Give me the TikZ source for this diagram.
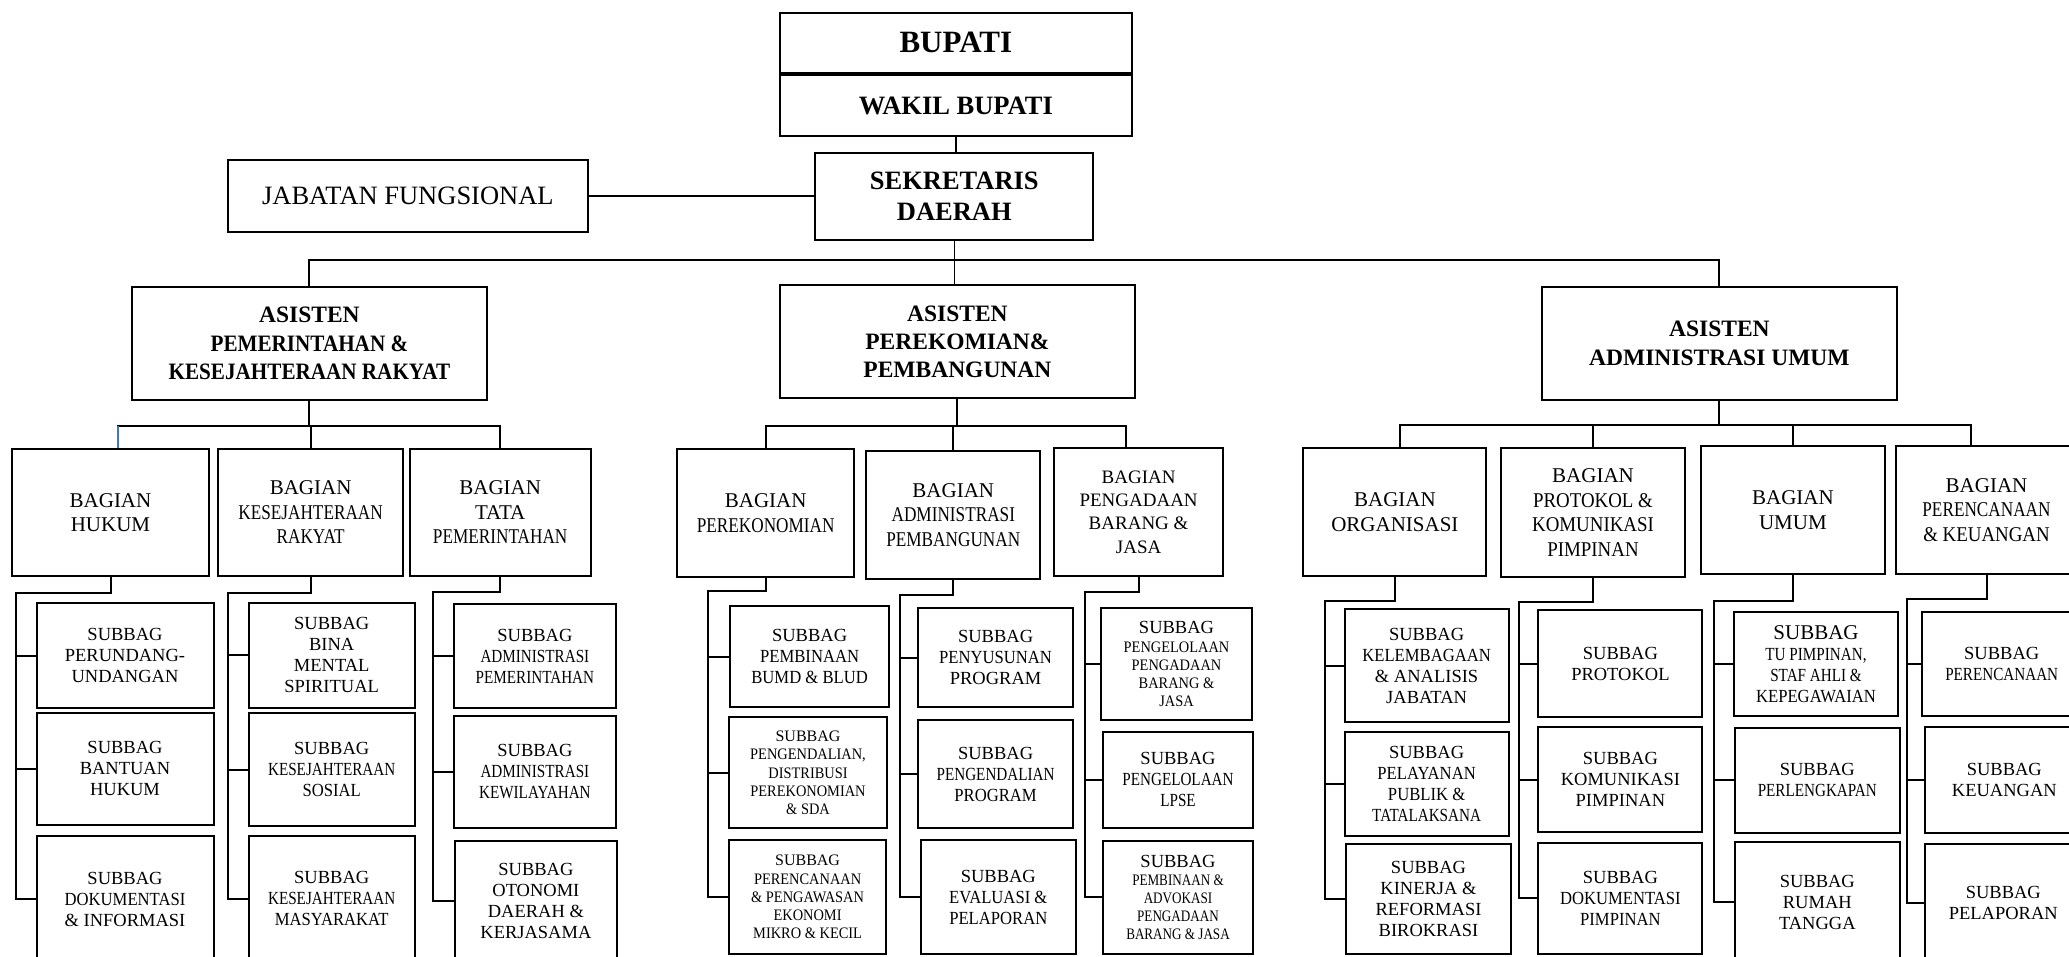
\documentclass[tikz,border=0pt]{standalone}
\usepackage{fontspec}
\setmainfont{Liberation Serif}
\newfontfamily\nrw{Liberation Serif}[FakeStretch=0.82]
\newfontfamily\snrw{Liberation Serif}[FakeStretch=0.9]
\usetikzlibrary{positioning}
\definecolor{hkblue}{RGB}{68,114,196}
\newcommand{\smf}{\fontsize{16}{18.2}\selectfont}

\begin{document}
\begin{tikzpicture}[x=1pt,y=-1pt,
  box/.style={draw,line width=2pt,inner sep=0pt,align=center},
  sz/.style 2 args={minimum width=#1pt,minimum height=#2pt},
  asisten/.style={box,font=\bfseries\fontsize{23.5}{28.3}\selectfont},
  bag/.style={box,font=\fontsize{21}{24.5}\selectfont},
  sub/.style={box,font=\fontsize{18.5}{21}\selectfont},
  link/.style={line width=2pt},
  thinlink/.style={line width=1.4pt}
]
  \useasboundingbox (0,0) rectangle (2069,956);
  \clip (0,0) rectangle (2069,956);

  % pimpinan
  \node[box,sz={352.6}{60},font=\bfseries\fontsize{31}{36}\selectfont] (bupati) at (955.8,42.7) {BUPATI};
  \node[box,sz={352.6}{61.6},font=\bfseries\fontsize{26.5}{30}\selectfont,below=0pt of bupati] (wakil) {WAKIL BUPATI};
  \node[box,sz={278}{87.3},font=\bfseries\fontsize{26.5}{30.7}\selectfont] (sekda) at (954.3,196.3) {SEKRETARIS\\DAERAH};
  \node[box,sz={360.3}{71.7},font=\fontsize{26.5}{30}\selectfont] (jabfung) at (407.9,195.9) {JABATAN FUNGSIONAL};

  % asisten
  \node[asisten,sz={355.3}{113.3}] (as1) at (309.4,343.4) {ASISTEN\\{\snrw PEMERINTAHAN \&}\\{\snrw KESEJAHTERAAN RAKYAT}};
  \node[asisten,sz={355.8}{113.3}] (as2) at (957.4,341.7) {ASISTEN\\PEREKOMIAN\&\\PEMBANGUNAN};
  \node[asisten,sz={355.1}{113.3}] (as3) at (1719.4,343.4) {ASISTEN\\ADMINISTRASI UMUM};

  % bagian
  \node[bag,sz={197.8}{127}] (hk) at (110.5,512.5) {BAGIAN\\HUKUM};
  \node[bag,sz={185.7}{127}] (ks) at (310.6,512.5) {BAGIAN\\{\nrw KESEJAHTERAAN}\\{\nrw RAKYAT}};
  \node[bag,sz={181.2}{127}] (tp) at (500.2,512.5) {BAGIAN\\TATA\\{\nrw PEMERINTAHAN}};
  \node[bag,sz={177.4}{127.7}] (pe) at (765.7,512.9) {BAGIAN\\{\nrw PEREKONOMIAN}};
  \node[bag,sz={173.7}{127.7}] (ap) at (953.3,514.9) {BAGIAN\\{\nrw ADMINISTRASI}\\{\nrw PEMBANGUNAN}};
  \node[bag,sz={168.8}{127.4},font=\fontsize{19}{23.3}\selectfont] (pb) at (1138.6,512) {BAGIAN\\PENGADAAN\\BARANG \&\\JASA};
  \node[bag,sz={183}{128.3}] (og) at (1394.9,511.9) {BAGIAN\\ORGANISASI};
  \node[bag,sz={184}{128.4}] (pk) at (1593,512.5) {BAGIAN\\{\snrw PROTOKOL \&}\\{\snrw KOMUNIKASI}\\{\snrw PIMPINAN}};
  \node[bag,sz={184.4}{128.3}] (um) at (1792.9,509.9) {BAGIAN\\UMUM};
  \node[bag,sz={181}{128.3}] (pr) at (1986.5,509.9) {BAGIAN\\{\nrw PERENCANAAN}\\{\snrw \& KEUANGAN}};

  % subbag pemerintahan & kesra
  \node[sub,sz={177}{104.4}] (hk1) at (125,655.5) {SUBBAG\\PERUNDANG-\\UNDANGAN};
  \node[sub,sz={177}{112.3}] (hk2) at (125,768.9) {SUBBAG\\BANTUAN\\HUKUM};
  \node[sub,sz={177}{126}] (hk3) at (125,899) {SUBBAG\\{\snrw DOKUMENTASI}\\\& INFORMASI};
  \node[sub,sz={165.8}{105}] (ks1) at (331.7,655.2) {SUBBAG\\BINA\\MENTAL\\SPIRITUAL};
  \node[sub,sz={165.8}{112.4}] (ks2) at (331.7,769.5) {SUBBAG\\{\nrw KESEJAHTERAAN}\\{\snrw SOSIAL}};
  \node[sub,sz={165.8}{126.3}] (ks3) at (331.7,898.9) {SUBBAG\\{\nrw KESEJAHTERAAN}\\{\snrw MASYARAKAT}};
  \node[sub,sz={161.7}{103.7}] (tp1) at (534.9,655.9) {SUBBAG\\{\nrw ADMINISTRASI}\\{\nrw PEMERINTAHAN}};
  \node[sub,sz={161.7}{112.6}] (tp2) at (534.9,772) {SUBBAG\\{\nrw ADMINISTRASI}\\{\nrw KEWILAYAHAN}};
  \node[sub,sz={162.2}{121.3}] (tp3) at (535.9,901.4) {SUBBAG\\OTONOMI\\DAERAH \&\\KERJASAMA};

  % subbag perekonomian & pembangunan
  \node[sub,sz={159.2}{101.6}] (pe1) at (809.6,656.5) {SUBBAG\\{\snrw PEMBINAAN}\\{\snrw BUMD \& BLUD}};
  \node[sub,sz={158.3}{111},font=\smf\snrw] (pe2) at (808,772.8) {{\rmfamily SUBBAG}\\PENGENDALIAN,\\DISTRIBUSI\\PEREKONOMIAN\\\& SDA};
  \node[sub,sz={157.5}{114},font=\smf\snrw] (pe3) at (807.6,897) {{\rmfamily SUBBAG}\\PERENCANAAN\\\& PENGAWASAN\\EKONOMI\\MIKRO \& KECIL};
  \node[sub,sz={155.5}{99}] (ap1) at (995.6,657.8) {SUBBAG\\{\snrw PENYUSUNAN}\\PROGRAM};
  \node[sub,sz={155.5}{108.3}] (ap2) at (995.6,774.2) {SUBBAG\\{\nrw PENGENDALIAN}\\{\snrw PROGRAM}};
  \node[sub,sz={155.1}{114}] (ap3) at (998.3,897) {SUBBAG\\{\snrw EVALUASI \&}\\{\snrw PELAPORAN}};
  \node[sub,sz={151}{111.7},font=\smf\snrw] (pb1) at (1176.5,664.2) {{\rmfamily\fontsize{18.5}{19}\selectfont SUBBAG}\\PENGELOLAAN\\PENGADAAN\\BARANG \&\\JASA};
  \node[sub,sz={150.5}{96}] (pb2) at (1178,779.7) {SUBBAG\\{\nrw PENGELOLAAN}\\{\nrw LPSE}};
  \node[sub,sz={150.5}{113.3},font=\smf\nrw] (pb3) at (1178,897.4) {{\rmfamily\fontsize{18.5}{19}\selectfont SUBBAG}\\PEMBINAAN \&\\ADVOKASI\\PENGADAAN\\BARANG \& JASA};

  % subbag administrasi umum
  \node[sub,sz={164}{112.4}] (og1) at (1426.6,665.5) {SUBBAG\\{\snrw KELEMBAGAAN}\\\& ANALISIS\\JABATAN};
  \node[sub,sz={164}{104}] (og2) at (1426.6,783.7) {SUBBAG\\{\snrw PELAYANAN}\\{\snrw PUBLIK \&}\\{\nrw TATALAKSANA}};
  \node[sub,sz={165}{109.7}] (og3) at (1428.5,899.2) {SUBBAG\\KINERJA \&\\REFORMASI\\BIROKRASI};
  \node[sub,sz={163.9}{107.3}] (pk1) at (1620.4,663.7) {SUBBAG\\PROTOKOL};
  \node[sub,sz={163.9}{105}] (pk2) at (1620.4,779.8) {SUBBAG\\KOMUNIKASI\\PIMPINAN};
  \node[sub,sz={163.9}{111.3}] (pk3) at (1620.4,898.4) {SUBBAG\\{\snrw DOKUMENTASI}\\{\snrw PIMPINAN}};
  \node[sub,sz={164.9}{103.7}] (um1) at (1816,664.2) {{\fontsize{21}{21}\selectfont SUBBAG}\\{\nrw TU PIMPINAN,}\\{\nrw STAF AHLI \&}\\{\snrw KEPEGAWAIAN}};
  \node[sub,sz={165.4}{105}] (um2) at (1817.3,780.2) {SUBBAG\\{\nrw PERLENGKAPAN}};
  \node[sub,sz={165.4}{119.7}] (um3) at (1817.3,902.2) {SUBBAG\\RUMAH\\TANGGA};
  \node[sub,sz={158.7}{103.7}] (pr1) at (2001.7,664.2) {SUBBAG\\{\nrw PERENCANAAN}};
  \node[sub,sz={158.6}{105.4}] (pr2) at (2004.3,780) {SUBBAG\\KEUANGAN};
  \node[sub,sz={156.6}{117.7}] (pr3) at (2003.3,903.2) {SUBBAG\\PELAPORAN};

  % garis pimpinan
  \draw[link] (wakil.south) -- (wakil.south |- sekda.north);
  \draw[link] (jabfung.east) -- (jabfung.east -| sekda.west);
  \draw[thinlink] (sekda.south) -- (sekda.south |- as2.north);
  \draw[link] (as1.north) -- ++(0,-26) -| (as3.north);

  % garis asisten ke bagian
  \draw[link] (as1.south) -- ++(0,25) coordinate (bus1);
  \draw[link] ([xshift=7pt]hk.north) |- (bus1) -| (tp.north);
  \draw[link] (ks.north) -- (ks.north |- bus1);
  \draw[link,hkblue] ([xshift=7pt]hk.north) -- ([xshift=7pt]hk.north |- bus1);
  \draw[link] (as2.south) -- ++(0,27) coordinate (bus2);
  \draw[link] (pe.north) |- (bus2) -| ([xshift=-13pt]pb.north);
  \draw[link] (ap.north) -- (ap.north |- bus2);
  \draw[link] (as3.south) -- ++(0,24) coordinate (bus3);
  \draw[link] ([xshift=5pt]og.north) |- (bus3) -| ([xshift=-16pt]pr.north);
  \draw[link] (pk.north) -- (pk.north |- bus3);
  \draw[link] (um.north) -- (um.north |- bus3);

  % garis bagian ke subbag
  \foreach \g/\d/\gp in {hk/16/20,ks/16/20,tp/15/21,pe/13/20,ap/15/20,pb/15/17,og/24/20,pk/24/18,um/26/20,pr/24/17}{
    \draw[link] (\g.south) -- ++(0,\d) -| ([xshift=-\gp pt]\g3.west) coordinate (sp) -- (\g3.west);
    \draw[link] (\g1.west -| sp) -- (\g1.west);
    \draw[link] (\g2.west -| sp) -- (\g2.west);
  }
\end{tikzpicture}
\end{document}
